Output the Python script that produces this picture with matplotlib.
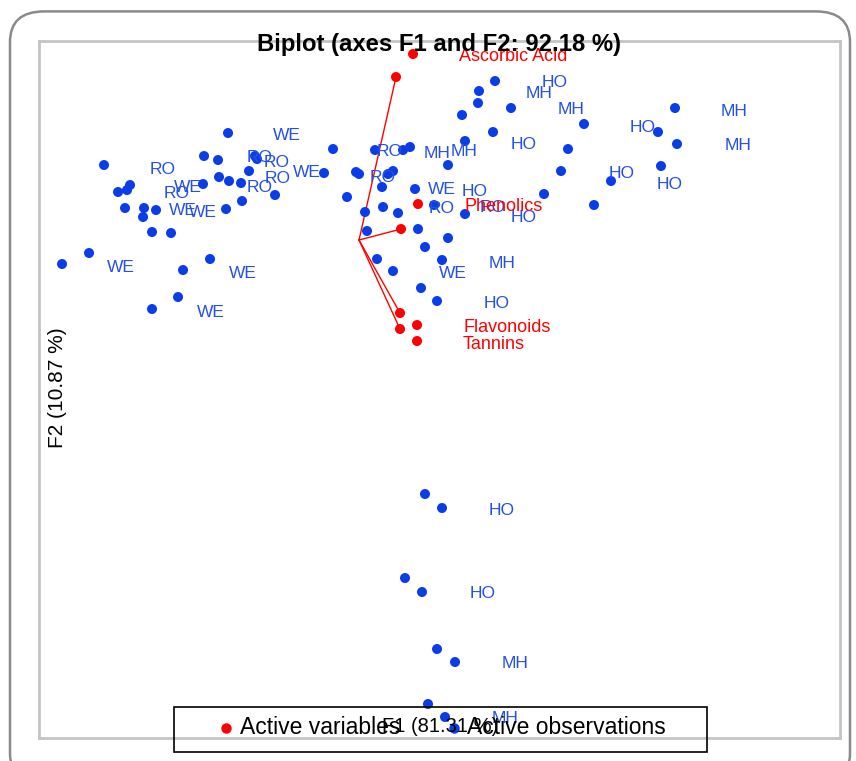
#!/usr/bin/env python
"""
Biplot (axes F1 and F2) - PCA observations and active variables
"""

import matplotlib
matplotlib.use("Agg")
import matplotlib.pyplot as plt
from matplotlib.patches import FancyBboxPatch, Rectangle
from matplotlib.lines import Line2D

plt.rcParams['font.family'] = ['Liberation Sans', 'DejaVu Sans']

# observation scores (F1, F2)
obs_f1 = [-1.31, -0.26, -2.55, -1.55, -1.41, -1.04, -1.02, -1.10, -0.35, -1.40,
          -1.30, -1.18, -1.56, -2.29, -2.32, -2.41, -0.84, -1.17, -2.34, -2.15,
          -2.03, -2.16, -1.33, -2.07, -1.88, -2.70, -2.97, -1.49, -1.76, -1.81,
          -2.07, 0.16, 0.44, 0.51, -0.03, 0.00, 0.29, 0.34, 0.23, 0.56,
          -0.12, 0.06, 0.24, 0.39, 0.75, 1.06, 0.08, 0.59, 0.89, 0.66,
          0.18, 0.83, 0.34, 0.62, 0.78, 0.89, 1.06, 1.36, 1.20, 1.19,
          1.52, 1.03, 1.34, 2.25, 2.09, 2.02, 1.85, 2.35, 2.52, 3.16,
          2.99, 3.18, 3.02, 0.66, 0.83, 0.46, 0.63, 0.78, 0.96, 0.69, 0.86]
obs_f2 = [1.07, 0.91, 0.75, 0.84, 0.80, 0.84, 0.81, 0.69, 0.67, 0.63,
          0.59, 0.57, 0.56, 0.55, 0.50, 0.48, 0.45, 0.39, 0.32, 0.32,
          0.30, 0.23, 0.31, 0.08, 0.07, -0.13, -0.24, -0.19, -0.30, -0.57,
          -0.69, 0.90, 0.90, 0.93, 0.68, 0.66, 0.66, 0.69, 0.53, 0.51,
          0.43, 0.28, 0.33, 0.27, 0.35, 0.26, 0.09, 0.11, 0.02, -0.07,
          -0.19, -0.20, -0.31, -0.48, -0.61, 0.75, 0.99, 1.59, 1.49, 1.37,
          1.32, 1.25, 1.08, 1.16, 0.91, 0.69, 0.46, 0.35, 0.59, 1.32,
          1.08, 0.96, 0.74, -2.54, -2.68, -3.38, -3.52, -4.09, -4.22, -4.64, -4.77]

# observation labels (group names) and where they sit
obs_labels = ['WE', 'RO', 'WE', 'RO', 'WE', 'WE', 'RO', 'RO', 'RO', 'WE',
              'RO', 'WE', 'WE', 'WE', 'RO', 'MH', 'MH', 'HO', 'RO', 'WE',
              'HO', 'RO', 'RO', 'HO', 'MH', 'WE', 'HO', 'HO', 'MH', 'MH',
              'HO', 'HO', 'HO', 'MH', 'MH', 'HO', 'HO', 'MH', 'MH']
label_f1 = [-0.72, -1.96, -1.71, -1.82, -1.76, -1.56, -0.99, -0.82, -0.81, -0.52,
            -0.99, -2.38, -1.16, -1.48, 0.31, 0.78, 1.05, 1.65, 0.24, 0.83,
            1.16, 0.83, 1.34, 1.65, 1.43, 0.94, 1.38, 1.96, 1.80, 2.12,
            2.84, 2.63, 3.11, 3.75, 3.79, 1.43, 1.24, 1.56, 1.46]
label_f2 = [1.05, 0.71, 0.53, 0.47, 0.30, 0.28, 0.83, 0.78, 0.62, 0.68,
            0.53, -0.27, -0.33, -0.72, 0.89, 0.87, 0.89, 0.96, 0.63, 0.51,
            0.49, 0.32, 0.33, 0.23, -0.23, -0.33, -0.63, 1.58, 1.47, 1.31,
            1.13, 0.67, 0.56, 1.29, 0.95, -2.70, -3.53, -4.23, -4.78]

# active variables: vector ends, label points and label positions
var_names = ['Ascorbic Acid', 'Phenolics', 'Flavonoids', 'Tannins']
vec_f1 = [0.37, 0.42, 0.41, 0.41]
vec_f2 = [1.63, 0.11, -0.73, -0.89]
var_pt_f1 = [0.54, 0.59, 0.58, 0.58]
var_pt_f2 = [1.86, 0.36, -0.85, -1.01]
var_lab_f1 = [1.00, 1.05, 1.04, 1.04]
var_lab_f2 = [1.84, 0.34, -0.87, -1.04]

BLUE = '#0a3de8'
BLUE_TXT = '#2450e6'
RED = '#ff0000'


def main():
    fig = plt.figure(figsize=(8.56, 7.61), dpi=100)
    ax = fig.add_axes([0.0456, 0.0302, 0.9357, 0.9159])

    # outer rounded frame
    fig.patches.append(FancyBboxPatch(
        (10 / 856, -0.03), 840 / 856, 1.015,
        boxstyle="round,pad=0,rounding_size=0.04", transform=fig.transFigure,
        facecolor='none', edgecolor='#8a8a8a', linewidth=1.8, zorder=0))

    # vectors from origin
    for x, y in zip(vec_f1, vec_f2):
        ax.plot([0, x], [0, y], color=RED, lw=1.0, zorder=2)

    ax.scatter(obs_f1, obs_f2, s=52, color=BLUE, edgecolors='none', zorder=3)
    for t, x, y in zip(obs_labels, label_f1, label_f2):
        ax.text(x, y, t, color=BLUE_TXT, fontsize=12.5, ha='center', va='center', zorder=4)

    ax.scatter(vec_f1, vec_f2, s=52, color=RED, edgecolors='none', zorder=5)
    ax.scatter(var_pt_f1, var_pt_f2, s=52, color=RED, edgecolors='none', zorder=5)
    for t, x, y in zip(var_names, var_lab_f1, var_lab_f2):
        ax.text(x, y, t, color=RED, fontsize=13, ha='left', va='center', zorder=6)

    ax.set_xlim(-3.20, 4.81)
    ax.set_ylim(-4.98, 1.99)
    ax.set_xticks([])
    ax.set_yticks([])
    for sp in ax.spines.values():
        sp.set_color('#c4c4c4')
        sp.set_linewidth(2.0)

    # title and axis labels, drawn inside the frame like the original
    fig.text(439 / 856, 1 - 44 / 761, 'Biplot (axes F1 and F2: 92.18 %)',
             fontsize=17.2, fontweight='bold', ha='center', va='center', zorder=10)
    fig.text(58 / 856, 1 - 388 / 761, 'F2 (10.87 %)', fontsize=15,
             rotation=90, ha='center', va='center')
    fig.text(440 / 856, 1 - 727 / 761, 'F1 (81.31 %)', fontsize=14.5,
             ha='center', va='center')

    # legend box (transparent, overlapping the x label)
    fig.patches.append(Rectangle((174 / 856, 1 - 752 / 761), 533 / 856, 45 / 761,
                                 transform=fig.transFigure, facecolor='none',
                                 edgecolor='black', linewidth=1.2))
    fig.lines.append(Line2D([226 / 856], [1 - 728 / 761], marker='o', ms=7.5,
                            color=RED, mec='none', transform=fig.transFigure))
    fig.lines.append(Line2D([454 / 856], [1 - 728 / 761], marker='o', ms=7.5,
                            color=BLUE, mec='none', transform=fig.transFigure))
    fig.text(240 / 856, 1 - 727 / 761, 'Active variables', fontsize=16.5,
             ha='left', va='center')
    fig.text(467 / 856, 1 - 727 / 761, 'Active observations', fontsize=16.5,
             ha='left', va='center')

    fig.savefig('out.png', dpi=100)


if __name__ == "__main__":
    main()
